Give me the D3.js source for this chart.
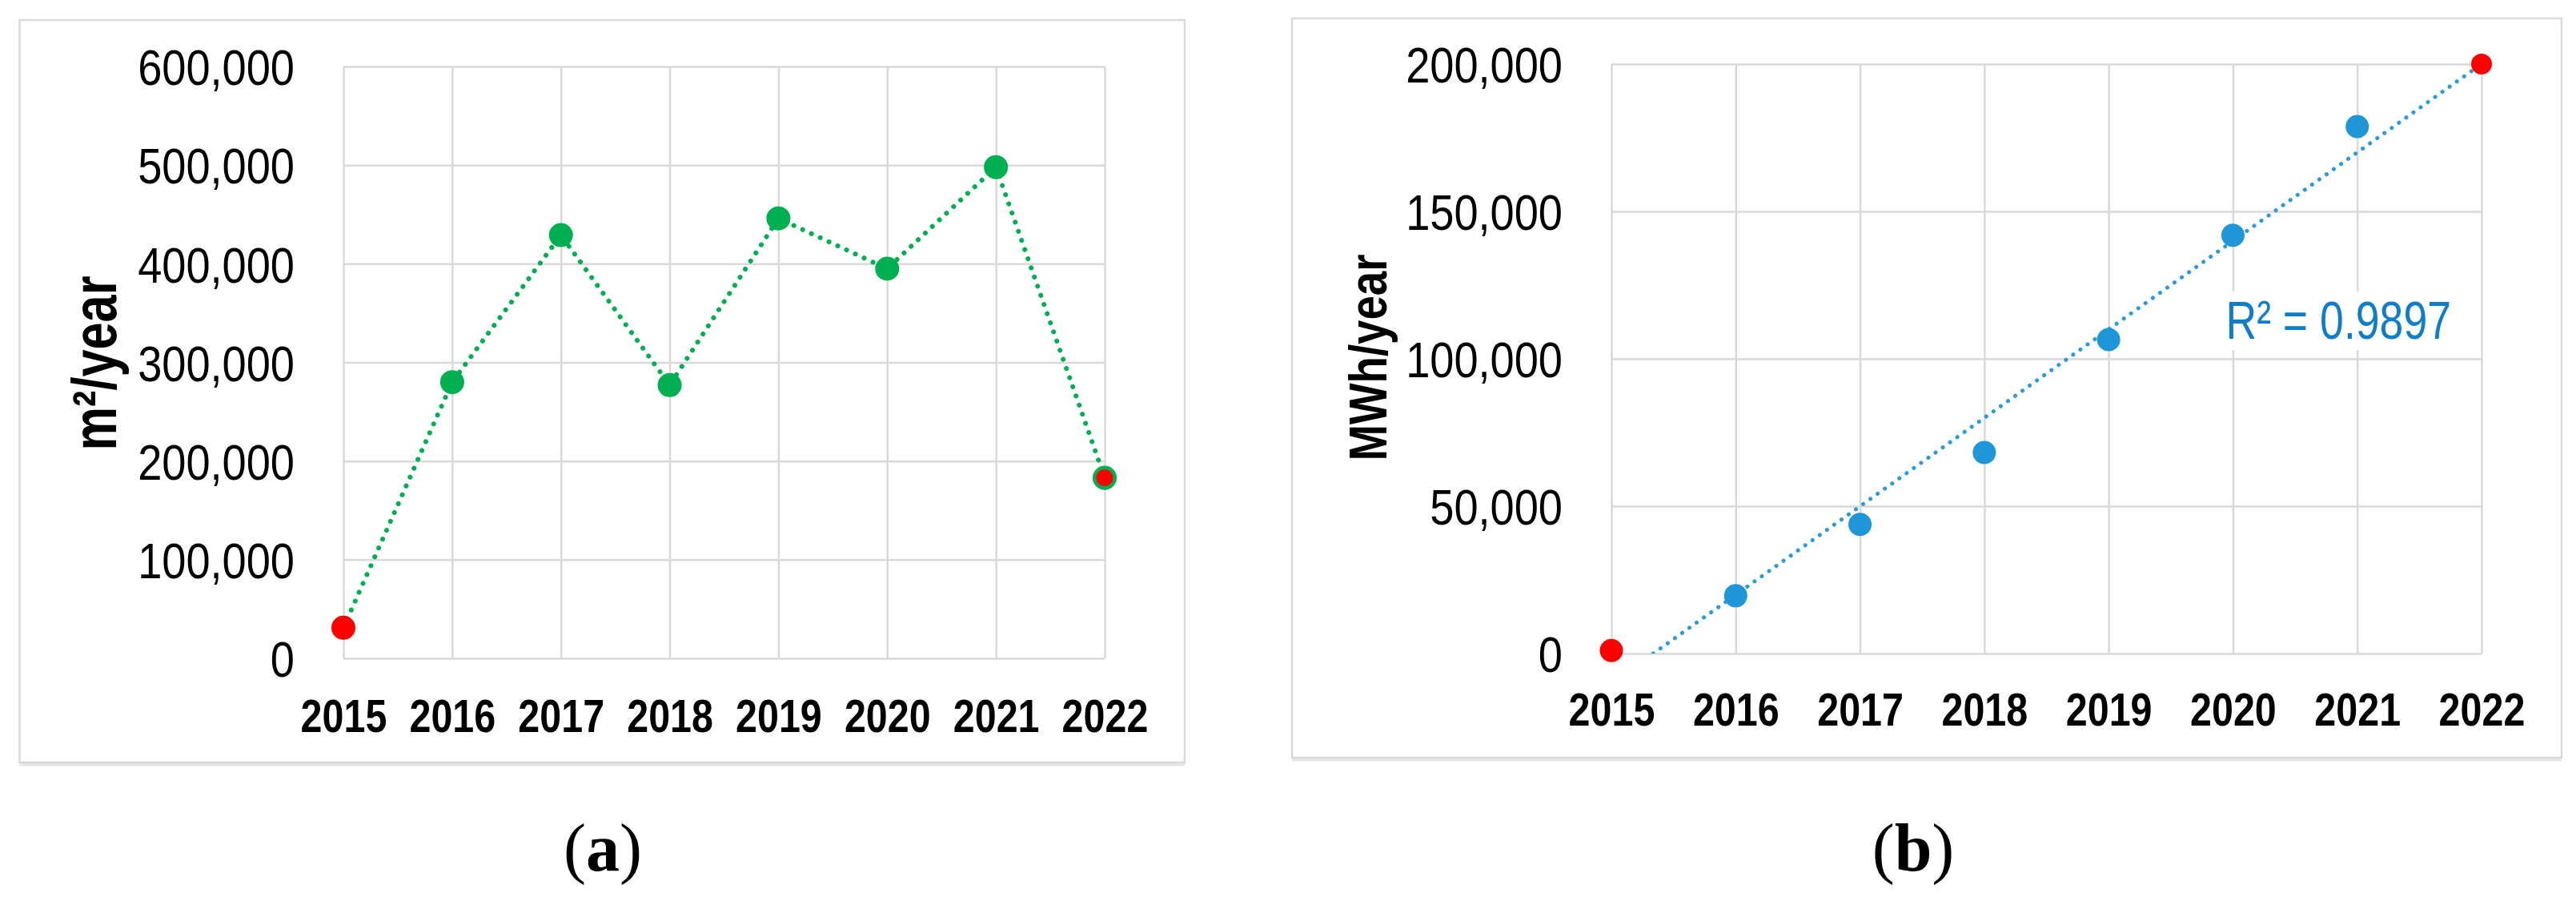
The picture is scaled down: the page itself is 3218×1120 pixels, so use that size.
<!DOCTYPE html>
<html>
<head>
<meta charset="utf-8">
<script src="https://cdn.jsdelivr.net/npm/d3@7"></script>
<style>
  body { margin: 0; background: #fff; }
  text { font-family: "Liberation Sans", Arial, sans-serif; }
</style>
</head>
<body>
<div id="chart"></div>
<script>
// values
const years = [2015, 2016, 2017, 2018, 2019, 2020, 2021, 2022];
const areaValues = [31000, 280000, 429000, 277000, 446000, 395000, 498000, 183000];
const energyValues = [1000, 19600, 43800, 68200, 106500, 141900, 178800, 200000];
const areaTicks = [0, 100000, 200000, 300000, 400000, 500000, 600000];
const energyTicks = [0, 50000, 100000, 150000, 200000];
const r2Label = "R² = 0.9897";
const captions = ["a", "b"];

const width = 3218;
const height = 1120;
const grid = "#d9d9d9";

const svg = d3.select("#chart").append("svg")
    .attr("width", width)
    .attr("height", height);
svg.append("rect").attr("width", width).attr("height", height).attr("fill", "#fff");

// the source picture is narrower than plain Arial, squeeze text to fit
function squeeze(sel, k) {
    sel.each(function() {
        const w = this.getComputedTextLength();
        d3.select(this).attr("textLength", w * k).attr("lengthAdjust", "spacingAndGlyphs");
    });
}

function drawPanel(p) {
    const g = svg.append("g").attr("id", p.id);

    // frame with a soft shadow at the bottom
    g.append("line")
        .attr("x1", p.frame.x).attr("x2", p.frame.x + p.frame.w)
        .attr("y1", p.frame.y + p.frame.h + 2).attr("y2", p.frame.y + p.frame.h + 2)
        .attr("stroke", "#e6e6e6").attr("stroke-width", 5);
    g.append("rect")
        .attr("x", p.frame.x).attr("y", p.frame.y)
        .attr("width", p.frame.w).attr("height", p.frame.h)
        .attr("fill", "#fff").attr("stroke", grid).attr("stroke-width", 2.5);

    const x = d3.scaleLinear().domain([years[0], years[years.length - 1]]).range([p.left, p.right]);
    const y = d3.scaleLinear().domain([0, p.yMax]).range([p.bottom, p.top]);

    // gridlines
    g.append("g").attr("transform", `translate(0, ${p.bottom})`)
        .call(d3.axisBottom(x).tickValues(years).tickSize(-(p.bottom - p.top)).tickFormat(""))
        .call(a => a.select(".domain").remove())
        .call(a => a.selectAll("line").attr("stroke", grid).attr("stroke-width", 2.5));
    g.append("g").attr("transform", `translate(${p.left}, 0)`)
        .call(d3.axisLeft(y).tickValues(p.ticks).tickSize(-(p.right - p.left)).tickFormat(""))
        .call(a => a.select(".domain").remove())
        .call(a => a.selectAll("line").attr("stroke", grid).attr("stroke-width", 2.5));

    // tick labels
    const yAxisGroup = g.append("g").attr("transform", `translate(${p.left}, 0)`)
        .call(d3.axisLeft(y).tickValues(p.ticks).tickSize(0).tickPadding(61).tickFormat(d3.format(",")));
    yAxisGroup.select(".domain").remove();
    yAxisGroup.selectAll("text")
        .attr("font-size", 63).attr("fill", "#000").attr("dy", "0.36em")
        .call(squeeze, 0.86);

    const xAxisGroup = g.append("g").attr("transform", `translate(0, ${p.bottom})`)
        .call(d3.axisBottom(x).tickValues(years).tickSize(0).tickFormat(d3.format("d")));
    xAxisGroup.select(".domain").remove();
    xAxisGroup.selectAll("text")
        .attr("font-size", 57).attr("font-weight", "bold").attr("fill", "#000")
        .attr("y", p.labelGap).attr("dy", null)
        .call(squeeze, 0.85);

    // axis title
    g.append("text")
        .attr("transform", `translate(${p.titleX}, ${(p.top + p.bottom) / 2 + p.titleShift}) rotate(-90)`)
        .attr("text-anchor", "middle")
        .attr("font-size", p.titleSize).attr("font-weight", "bold").attr("fill", "#000")
        .attr("textLength", p.titleLength).attr("lengthAdjust", "spacingAndGlyphs")
        .text(p.title);

    return { g: g, x: x, y: y };
}

// (a) surface per year
const pa = drawPanel({
    id: "panelA",
    frame: { x: 24.5, y: 25, w: 1455.5, h: 927 },
    left: 429, right: 1380, top: 83, bottom: 822,
    yMax: 600000, ticks: areaTicks, labelGap: 92,
    title: "m²/year", titleSize: 78, titleLength: 218, titleX: 145, titleShift: 1
});

pa.g.append("path")
    .datum(areaValues)
    .attr("fill", "none")
    .attr("stroke", "#00B050")
    .attr("stroke-width", 6)
    .attr("stroke-linecap", "round")
    .attr("stroke-dasharray", "0.1 12")
    .attr("d", d3.line().x((d, i) => pa.x(years[i])).y(d => pa.y(d)));

pa.g.selectAll(".dot").data(areaValues).enter().append("circle")
    .attr("class", "dot")
    .attr("cx", (d, i) => pa.x(years[i]))
    .attr("cy", d => pa.y(d))
    .attr("r", (d, i) => i === areaValues.length - 1 ? 12.8 : 15)
    .attr("fill", (d, i) => (i === 0 || i === areaValues.length - 1) ? "#FF0000" : "#00B050")
    .attr("stroke", (d, i) => i === areaValues.length - 1 ? "#00B050" : "none")
    .attr("stroke-width", 4.5);

// (b) energy per year with linear trend
const pb = drawPanel({
    id: "panelB",
    frame: { x: 1614, y: 23, w: 1586, h: 923 },
    left: 2013, right: 3100, top: 80, bottom: 816,
    yMax: 200000, ticks: energyTicks, labelGap: 90,
    title: "MWh/year", titleSize: 67, titleLength: 258, titleX: 1732, titleShift: -1.5
});

// least squares fit over the plotted points
const mx = d3.mean(years), my = d3.mean(energyValues);
const slope = d3.sum(years, (t, i) => (t - mx) * (energyValues[i] - my)) / d3.sum(years, t => (t - mx) * (t - mx));
const trend = t => my + slope * (t - mx);

// R² label on a white box
const r2 = pb.g.append("text")
    .attr("x", pb.x(2020) - 9)
    .attr("y", pb.y(106800))
    .attr("font-size", 67).attr("fill", "#0F7DC7")
    .text(r2Label)
    .call(squeeze, 0.80);
const bb = r2.node().getBBox();
pb.g.insert("rect", () => r2.node())
    .attr("x", bb.x - 12).attr("y", bb.y + 2)
    .attr("width", bb.width + 24).attr("height", bb.height - 2)
    .attr("fill", "#fff");

pb.g.append("clipPath").attr("id", "clipB")
    .append("rect")
    .attr("x", pb.x(years[0])).attr("y", pb.y(pb.y.domain()[1]) - 20)
    .attr("width", pb.x(years[years.length - 1]) - pb.x(years[0]) + 20)
    .attr("height", pb.y(0) - pb.y(pb.y.domain()[1]) + 20);

// trend starts where it crosses zero, like the clipped spreadsheet trendline
const t0 = Math.max(years[0], mx - my / slope);
pb.g.append("path")
    .datum([t0, years[years.length - 1]])
    .attr("clip-path", "url(#clipB)")
    .attr("fill", "none")
    .attr("stroke", "#2A9BDC")
    .attr("stroke-width", 5)
    .attr("stroke-linecap", "round")
    .attr("stroke-dasharray", "0.1 11")
    .attr("d", d3.line().x(t => pb.x(t)).y(t => pb.y(trend(t))));

pb.g.selectAll(".dot").data(energyValues).enter().append("circle")
    .attr("class", "dot")
    .attr("cx", (d, i) => pb.x(years[i]))
    .attr("cy", d => pb.y(d))
    .attr("r", (d, i) => i === energyValues.length - 1 ? 13 : 14.5)
    .attr("fill", (d, i) => (i === 0 || i === energyValues.length - 1) ? "#FF0000" : "#1E96D8");

// panel captions, serif like the journal layout
const captionX = [753, 2390];
captions.forEach((c, i) => {
    const t = svg.append("text")
        .attr("x", captionX[i]).attr("y", 1087)
        .attr("text-anchor", "middle")
        .style("font-family", "'Liberation Serif', 'Times New Roman', serif")
        .attr("font-size", 84).attr("fill", "#000");
    t.append("tspan").text("(");
    t.append("tspan").attr("font-weight", "bold").text(c);
    t.append("tspan").text(")");
});
</script>
</body>
</html>
